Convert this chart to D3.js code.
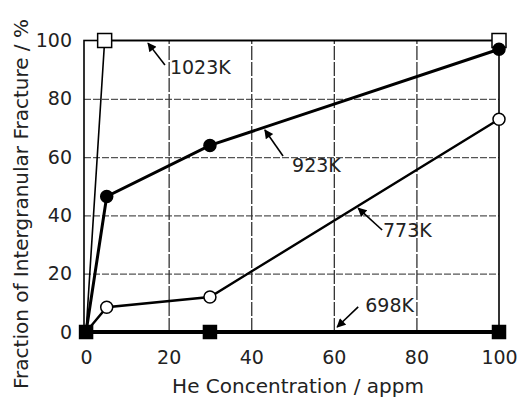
<!DOCTYPE html>
<html>
<head>
<meta charset="utf-8">
<script src="https://cdn.jsdelivr.net/npm/d3@7"></script>
<style>
  html, body { margin: 0; padding: 0; background: #fff; }
  svg { display: block; }
</style>
</head>
<body>
<div id="chart"></div>
<script>
// He concentration (appm) and intergranular fracture fraction (%) per test temperature
const conc1023K = [0, 4.5, 100]
const frac1023K = [0, 100, 100]
const conc923K = [0, 5, 30, 100]
const frac923K = [0, 46.5, 64, 97]
const conc773K = [0, 5, 30, 100]
const frac773K = [0, 8.5, 12, 73]
const conc698K = [0, 30, 100]
const frac698K = [0, 0, 0]

const xTicks = [0, 20, 40, 60, 80, 100]
const yTicks = [0, 20, 40, 60, 80, 100]

// callouts, in data units
const calloutText = ['1023K', '923K', '773K', '698K']
const calloutAt = [[20.3, 88.5], [49.9, 54.9], [71.9, 32.6], [67.6, 6.9]]
const arrowTip = [[15.0, 99.1], [43.3, 69.3], [65.9, 42.5], [60.8, 1.7]]
const arrowTail = [[19.1, 91.6], [47.7, 60.4], [71.7, 35.0], [65.9, 8.6]]

const W = 520
const H = 398
const FONT = '"DejaVu Sans", sans-serif'

const svg = d3.select('#chart')
  .append('svg')
  .attr('width', W)
  .attr('height', H)

const x = d3.scaleLinear().domain([-0.5, 100]).range([84, 499])
const y = d3.scaleLinear().domain([0, 100]).range([332, 40.5])

const zip = (xs, ys) => xs.map((v, i) => ({ x: v, y: ys[i] }))

const series = [
  { name: '1023K', pts: zip(conc1023K, frac1023K), width: 1.6, shape: 'square', fill: '#fff', skipFirst: true },
  { name: '923K', pts: zip(conc923K, frac923K), width: 3, shape: 'circle', fill: '#000', skipFirst: true },
  { name: '773K', pts: zip(conc773K, frac773K), width: 2.4, shape: 'circle', fill: '#fff', skipFirst: true },
  { name: '698K', pts: zip(conc698K, frac698K), width: 4, shape: 'square', fill: '#000', skipFirst: false }
]

// Gridlines
svg.append('g')
  .attr('transform', `translate(${x(-0.5)},0)`)
  .call(d3.axisLeft(y).tickValues(yTicks.slice(1, -1)).tickSize(-(x(100) - x(-0.5))).tickFormat(''))
  .call(sel => sel.select('.domain').remove())
  .call(sel => sel.selectAll('.tick line')
    .attr('stroke', '#555')
    .attr('stroke-width', 1.2)
    .attr('stroke-dasharray', '7,2'))

svg.append('g')
  .attr('transform', `translate(0,${y(0)})`)
  .call(d3.axisBottom(x).tickValues(xTicks.slice(1, -1)).tickSize(-(y(0) - y(100))).tickFormat(''))
  .call(sel => sel.select('.domain').remove())
  .call(sel => sel.selectAll('.tick line')
    .attr('stroke', '#333')
    .attr('stroke-width', 1.3)
    .attr('stroke-dasharray', '14,2'))

// Frame
svg.append('rect')
  .attr('x', x(-0.5))
  .attr('y', y(100))
  .attr('width', x(100) - x(-0.5))
  .attr('height', y(0) - y(100))
  .attr('fill', 'none')
  .attr('stroke', '#000')
  .attr('stroke-width', 1.6)

// X axis labels
svg.append('g')
  .attr('transform', `translate(0,${y(0)})`)
  .call(d3.axisBottom(x).tickValues(xTicks).tickSize(0).tickPadding(19))
  .call(sel => sel.select('.domain').remove())
  .call(sel => sel.selectAll('.tick text')
    .style('font-size', '19px')
    .style('font-family', FONT)
    .style('fill', '#222'))

// Y axis labels
svg.append('g')
  .attr('transform', `translate(${x(-0.5)},0)`)
  .call(d3.axisLeft(y).tickValues(yTicks).tickSize(0).tickPadding(12))
  .call(sel => sel.select('.domain').remove())
  .call(sel => sel.selectAll('.tick text')
    .style('font-size', '19px')
    .style('font-family', FONT)
    .style('fill', '#222'))

// Axis titles
svg.append('text')
  .attr('x', 298)
  .attr('y', 393)
  .attr('text-anchor', 'middle')
  .style('font-size', '20px')
  .style('font-family', FONT)
  .style('fill', '#222')
  .text('He Concentration / appm')

svg.append('text')
  .attr('transform', 'translate(28,204) rotate(-90)')
  .attr('text-anchor', 'middle')
  .style('font-size', '20px')
  .style('font-family', FONT)
  .style('fill', '#222')
  .text('Fraction of Intergranular Fracture  / %')

// Lines
const line = d3.line().x(d => x(d.x)).y(d => y(d.y))

svg.selectAll('.series')
  .data(series)
  .enter()
  .append('path')
  .attr('class', 'series')
  .attr('fill', 'none')
  .attr('stroke', '#000')
  .attr('stroke-width', d => d.width)
  .attr('d', d => line(d.pts))

// Markers
series.forEach(s => {
  const pts = s.skipFirst ? s.pts.slice(1) : s.pts
  const g = svg.append('g')
  if (s.shape === 'circle') {
    g.selectAll('circle')
      .data(pts)
      .enter()
      .append('circle')
      .attr('cx', d => x(d.x))
      .attr('cy', d => y(d.y))
      .attr('r', 6)
      .attr('fill', s.fill)
      .attr('stroke', '#000')
      .attr('stroke-width', 1.5)
  } else {
    const size = s.fill === '#000' ? 13 : 14
    g.selectAll('rect')
      .data(pts)
      .enter()
      .append('rect')
      .attr('x', d => x(d.x) - size / 2)
      .attr('y', d => y(d.y) - size / 2)
      .attr('width', size)
      .attr('height', size)
      .attr('fill', s.fill)
      .attr('stroke', '#000')
      .attr('stroke-width', 1.5)
  }
})

// Callout arrows
svg.append('defs')
  .append('marker')
  .attr('id', 'head')
  .attr('viewBox', '0 0 10 10')
  .attr('refX', 9)
  .attr('refY', 5)
  .attr('markerWidth', 11)
  .attr('markerHeight', 9)
  .attr('markerUnits', 'userSpaceOnUse')
  .attr('orient', 'auto')
  .append('path')
  .attr('d', 'M0,0 L10,5 L0,10 Z')
  .attr('fill', '#000')

svg.selectAll('.arrow')
  .data(calloutText)
  .enter()
  .append('line')
  .attr('class', 'arrow')
  .attr('x1', (d, i) => x(arrowTail[i][0]))
  .attr('y1', (d, i) => y(arrowTail[i][1]))
  .attr('x2', (d, i) => x(arrowTip[i][0]))
  .attr('y2', (d, i) => y(arrowTip[i][1]))
  .attr('stroke', '#000')
  .attr('stroke-width', 1.6)
  .attr('marker-end', 'url(#head)')

svg.selectAll('.callout')
  .data(calloutText)
  .enter()
  .append('text')
  .attr('class', 'callout')
  .attr('x', (d, i) => x(calloutAt[i][0]))
  .attr('y', (d, i) => y(calloutAt[i][1]))
  .style('font-size', '19px')
  .style('font-family', FONT)
  .style('fill', '#222')
  .text(d => d)
</script>
</body>
</html>
